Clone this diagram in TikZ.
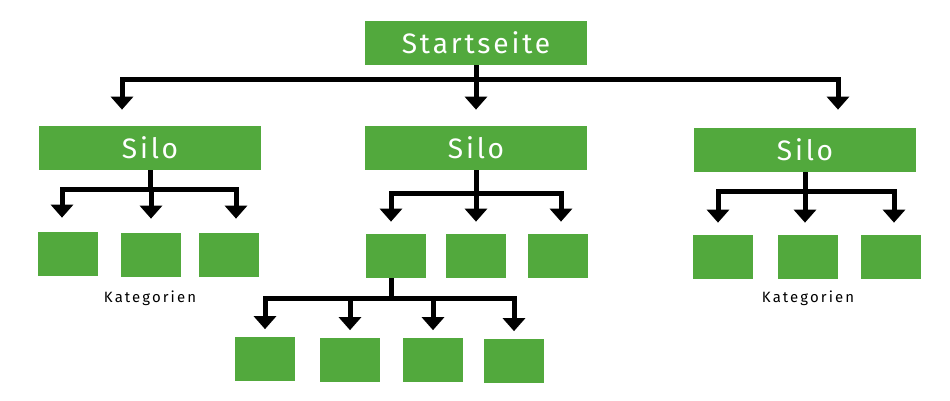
\documentclass[tikz,border=0pt]{standalone}
\usepackage{fontspec}
\setmainfont{Fira Sans}[LetterSpace=10]
\usetikzlibrary{arrows.meta,positioning}
\definecolor{silogreen}{RGB}{82,169,61}

\begin{document}
\begin{tikzpicture}[x=0.02cm,y=-0.02cm,
  box/.style={fill=silogreen,text=white,inner sep=0pt,minimum width=4.45cm,minimum height=0.88cm,font=\fontsize{16}{16}\selectfont},
  leaf/.style={fill=silogreen,inner sep=0pt,minimum width=1.2cm,minimum height=0.88cm},
  note/.style={font=\fontsize{8.5}{9}\selectfont\addfontfeatures{LetterSpace=14}},
  link/.style={line width=0.1cm,-{Triangle[width=0.44cm,length=0.26cm]}}]
\useasboundingbox (0,0) rectangle (950,400);
\node[box] (start) at (476,43) {Startseite};
\node[box] (silo1) at (150,148) {Silo};
\node[box] (silo2) at (476,148) {Silo};
\node[box] (silo3) at (805,150) {Silo};
\node[leaf] (k11) at (68,254) {};
\node[leaf] (k12) at (151,255) {};
\node[leaf] (k13) at (229,255) {};
\node[leaf] (k21) at (396,256) {};
\node[leaf] (k22) at (476,256) {};
\node[leaf] (k23) at (558,256) {};
\node[leaf] (k31) at (723,257) {};
\node[leaf] (k32) at (808,257) {};
\node[leaf] (k33) at (891,257) {};
\node[leaf] (u1) at (265,359) {};
\node[leaf] (u2) at (350,360) {};
\node[leaf] (u3) at (433,360) {};
\node[leaf] (u4) at (514,361) {};
\node[note] (kat1) at (150,298) {Kategorien};
\node[note] (kat3) at (808,298) {Kategorien};
\coordinate (b0) at ([yshift=-0.28cm]start.south);
\coordinate (b1) at ([yshift=-0.38cm]silo1.south);
\coordinate (b2) at ([yshift=-0.46cm]silo2.south);
\coordinate (b3) at ([yshift=-0.38cm]silo3.south);
\coordinate (b4) at ([xshift=-0.1cm,yshift=-0.4cm]k21.south);
\draw[link,shorten >=0.32cm] (start.south) -- (b0) -| ([xshift=-0.56cm]silo1.north);
\draw[link,shorten >=0.32cm] (start.south) -- (b0) -| (silo2.north);
\draw[link,shorten >=0.36cm] (start.south) -- (b0) -| ([xshift=0.66cm]silo3.north);
\draw[link,shorten >=0.28cm] (silo1.south) -- (b1) -| ([xshift=-0.12cm]k11.north);
\draw[link,shorten >=0.28cm] (silo1.south) -- (b1) -| (k12.north);
\draw[link,shorten >=0.28cm] (silo1.south) -- (b1) -| ([xshift=0.14cm]k13.north);
\draw[link,shorten >=0.24cm] (silo2.south) -- (b2) -| ([xshift=-0.1cm]k21.north);
\draw[link,shorten >=0.24cm] (silo2.south) -- (b2) -| (k22.north);
\draw[link,shorten >=0.24cm] (silo2.south) -- (b2) -| ([xshift=0.06cm]k23.north);
\draw[link,shorten >=0.24cm] (silo3.south) -- (b3) -| ([xshift=-0.1cm]k31.north);
\draw[link,shorten >=0.24cm] (silo3.south) -- (b3) -| ([xshift=-0.06cm]k32.north);
\draw[link,shorten >=0.24cm] (silo3.south) -- (b3) -| ([xshift=0.06cm]k33.north);
\draw[link,shorten >=0.15cm] ([xshift=-0.1cm]k21.south) -- (b4) -| (u1.north);
\draw[link,shorten >=0.15cm] ([xshift=-0.1cm]k21.south) -- (b4) -| (u2.north);
\draw[link,shorten >=0.15cm] ([xshift=-0.1cm]k21.south) -- (b4) -| (u3.north);
\draw[link,shorten >=0.15cm] ([xshift=-0.1cm]k21.south) -- (b4) -| (u4.north);
\end{tikzpicture}
\end{document}
